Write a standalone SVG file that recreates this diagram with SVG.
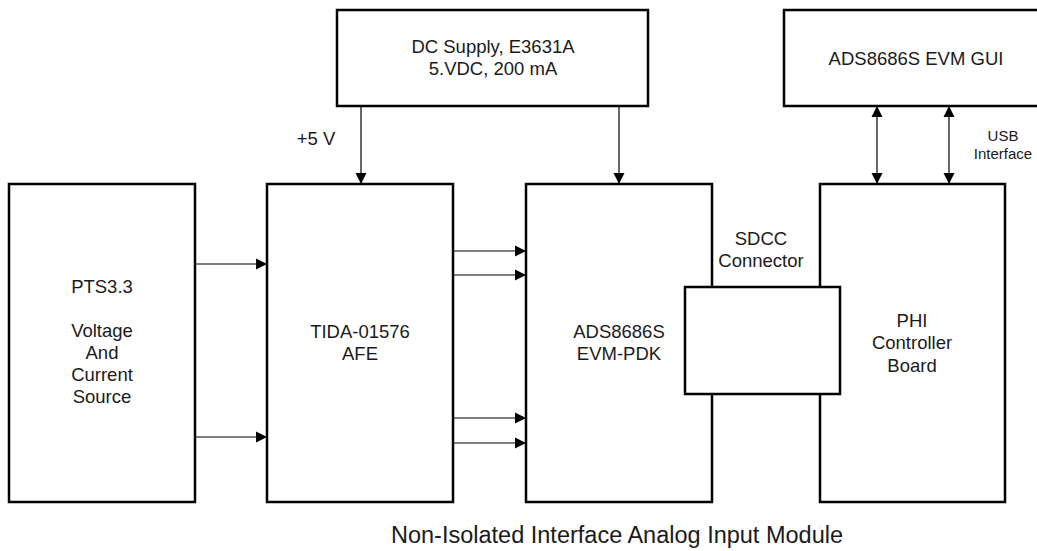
<svg xmlns="http://www.w3.org/2000/svg" width="1037" height="551" viewBox="0 0 1037 551">
<style>
.box{fill:#fff;stroke:#000;stroke-width:2.5}
.ln{fill:none;stroke:#000;stroke-width:1.2}
.t{font-family:"Liberation Sans",Arial,sans-serif;font-size:18.5px;fill:#1a1a1a;text-anchor:middle}
.s{font-size:15px}
.title{font-size:23.5px}
</style>
<defs>
<marker id="ah" markerUnits="userSpaceOnUse" markerWidth="12" markerHeight="12" viewBox="0 0 12 12" refX="11" refY="6" orient="auto-start-reverse">
<path d="M0,0.5 L11,6 L0,11.5 Z" fill="#000"/>
</marker>
</defs>
<g id="dc-supply">
<rect class="box" x="337" y="10" width="311" height="96"/>
<text class="t" x="493" y="53">DC Supply, E3631A</text>
<text class="t" x="493" y="75">5.VDC, 200 mA</text>
</g>
<g id="evm-gui">
<rect class="box" x="784" y="10" width="260" height="96"/>
<text class="t" x="916" y="65">ADS8686S EVM GUI</text>
</g>
<g id="pts">
<rect class="box" x="9" y="184" width="186" height="318"/>
<text class="t" x="102" y="293">PTS3.3</text>
<text class="t" x="102" y="337">Voltage</text>
<text class="t" x="102" y="359">And</text>
<text class="t" x="102" y="381">Current</text>
<text class="t" x="102" y="403">Source</text>
</g>
<g id="tida">
<rect class="box" x="267" y="184" width="186" height="318"/>
<text class="t" x="360" y="338">TIDA-01576</text>
<text class="t" x="360" y="360">AFE</text>
</g>
<g id="ads">
<rect class="box" x="526" y="184" width="186" height="318"/>
<text class="t" x="619" y="338">ADS8686S</text>
<text class="t" x="619" y="360">EVM-PDK</text>
</g>
<g id="phi">
<rect class="box" x="820" y="184" width="185" height="318"/>
<text class="t" x="912" y="327">PHI</text>
<text class="t" x="912" y="349">Controller</text>
<text class="t" x="912" y="372">Board</text>
</g>
<g id="sdcc">
<rect class="box" x="685" y="287" width="155" height="107"/>
<text class="t" x="761" y="245">SDCC</text>
<text class="t" x="761" y="267">Connector</text>
</g>
<g id="connectors">
<line class="ln" x1="361" y1="106" x2="361" y2="184" marker-end="url(#ah)"/>
<line class="ln" x1="619" y1="106" x2="619" y2="184" marker-end="url(#ah)"/>
<line class="ln" x1="877" y1="106" x2="877" y2="184" marker-start="url(#ah)" marker-end="url(#ah)"/>
<line class="ln" x1="949" y1="106" x2="949" y2="184" marker-start="url(#ah)" marker-end="url(#ah)"/>
<line class="ln" x1="195" y1="264" x2="267" y2="264" marker-end="url(#ah)"/>
<line class="ln" x1="195" y1="437" x2="267" y2="437" marker-end="url(#ah)"/>
<line class="ln" x1="453" y1="251" x2="526" y2="251" marker-end="url(#ah)"/>
<line class="ln" x1="453" y1="275" x2="526" y2="275" marker-end="url(#ah)"/>
<line class="ln" x1="453" y1="418" x2="526" y2="418" marker-end="url(#ah)"/>
<line class="ln" x1="453" y1="443" x2="526" y2="443" marker-end="url(#ah)"/>
<text class="t" x="316" y="145">+5 V</text>
<text class="t s" x="1003" y="141">USB</text>
<text class="t s" x="1003" y="159">Interface</text>
</g>
<text class="t title" x="617" y="543">Non-Isolated Interface Analog Input Module</text>
</svg>
